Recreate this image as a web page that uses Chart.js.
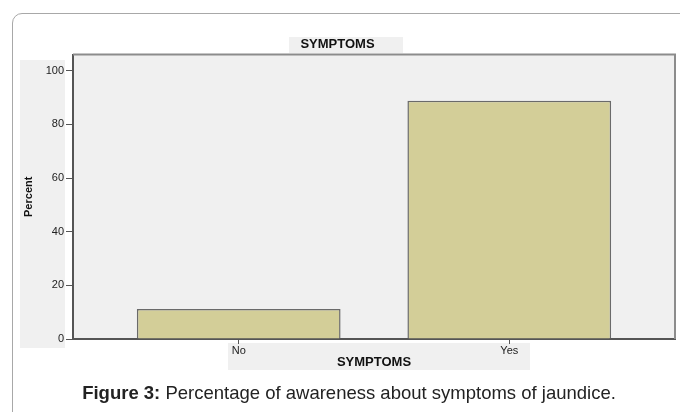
<!DOCTYPE html>
<html>
<head>
<meta charset="utf-8">
<script src="https://cdn.jsdelivr.net/npm/chart.js@4"></script>
<style>
  html, body { margin:0; padding:0; background:#fff; }
  #wrap { position:relative; width:680px; height:412px; overflow:hidden; }
  #frame { position:absolute; left:12px; top:13px; width:700px; height:430px; border:1px solid #a8a8a8; border-radius:10px; box-sizing:border-box; }
  #c { position:absolute; left:0; top:0; }
  #caption { position:absolute; left:0; width:698px; top:382px; text-align:center; font-family:"Liberation Sans", Arial, sans-serif; font-size:18.5px; color:#222; white-space:nowrap; }
</style>
</head>
<body>
<div id="wrap">
  <div id="frame"></div>
  <canvas id="c" width="680" height="412"></canvas>
  <div id="caption"><b>Figure 3:</b> Percentage of awareness about symptoms of jaundice.</div>
</div>
<script>
const categories = ['No', 'Yes'];
const percentValues = [11.2, 88.8];
const yTickValues = [0, 20, 40, 60, 80, 100];
const chartTitle = 'SYMPTOMS';
const xTitle = 'SYMPTOMS';
const yTitle = 'Percent';

const FONT = '"Liberation Sans", Arial, sans-serif';

const decor = {
  id: 'decor',
  beforeDraw(chart) {
    const ctx = chart.ctx;
    const a = chart.chartArea;
    ctx.save();
    ctx.fillStyle = '#f0f0f0';
    ctx.fillRect(20, 60, 45, 288);
    ctx.fillRect(289, 37, 114, 16);
    ctx.fillRect(228, 343, 302, 27);
    ctx.fillRect(a.left, a.top, a.right - a.left, a.bottom - a.top);
    ctx.restore();
  },
  beforeDatasetsDraw(chart) {
    const ctx = chart.ctx;
    const a = chart.chartArea;
    ctx.save();
    ctx.strokeStyle = '#8c8c8c';
    ctx.lineWidth = 2;
    ctx.beginPath();
    ctx.moveTo(a.left, a.top);
    ctx.lineTo(a.right, a.top);
    ctx.lineTo(a.right, a.bottom);
    ctx.stroke();
    ctx.restore();
  }
};

new Chart(document.getElementById('c'), {
  type: 'bar',
  data: {
    datasets: [{
      data: categories.map((c, i) => ({ x: i, y: percentValues[i] })),
      backgroundColor: '#d3ce98',
      borderColor: '#6a6a6a',
      borderWidth: 1.5,
      categoryPercentage: 1,
      barPercentage: 0.753
    }]
  },
  options: {
    responsive: false,
    animation: false,
    layout: { padding: { left: 0, right: 5, top: 0, bottom: 0 } },
    plugins: {
      legend: { display: false },
      tooltip: { enabled: false },
      title: {
        display: true,
        text: chartTitle,
        color: '#111',
        font: { family: FONT, size: 13, weight: 'bold', lineHeight: 1.2 },
        padding: { top: 37, bottom: 2 }
      }
    },
    scales: {
      x: {
        type: 'linear',
        min: -0.6125,
        max: 1.6125,
        offset: false,
        afterFit(s) { s.height = 73; },
        afterBuildTicks(s) { s.ticks = categories.map((c, i) => ({ value: i })); },
        ticks: {
          callback: (v) => categories[v],
          color: '#222',
          font: { family: FONT, size: 11 },
          padding: 0,
          maxRotation: 0,
          autoSkip: false
        },
        grid: { offset: false, drawOnChartArea: false, drawTicks: true, tickLength: 5, color: '#555', lineWidth: 1 },
        border: { display: true, color: '#555', width: 2 },
        title: {
          display: true,
          text: xTitle,
          color: '#111',
          font: { family: FONT, size: 13, weight: 'bold', lineHeight: 1.2 },
          padding: { top: 0, bottom: 42 }
        }
      },
      y: {
        min: 0,
        max: 106,
        afterFit(s) { s.width = 73; },
        afterBuildTicks(s) { s.ticks = yTickValues.map(v => ({ value: v })); },
        ticks: {
          color: '#222',
          font: { family: FONT, size: 11 },
          padding: 2,
          includeBounds: false
        },
        grid: { drawOnChartArea: false, drawTicks: true, tickLength: 7, color: '#555', lineWidth: 1 },
        border: { display: true, color: '#555', width: 2 },
        title: {
          display: true,
          text: yTitle,
          color: '#111',
          font: { family: FONT, size: 11, weight: 'bold', lineHeight: 1.2 },
          padding: { top: 22, bottom: 0 }
        }
      }
    }
  },
  plugins: [decor]
});
</script>
</body>
</html>
